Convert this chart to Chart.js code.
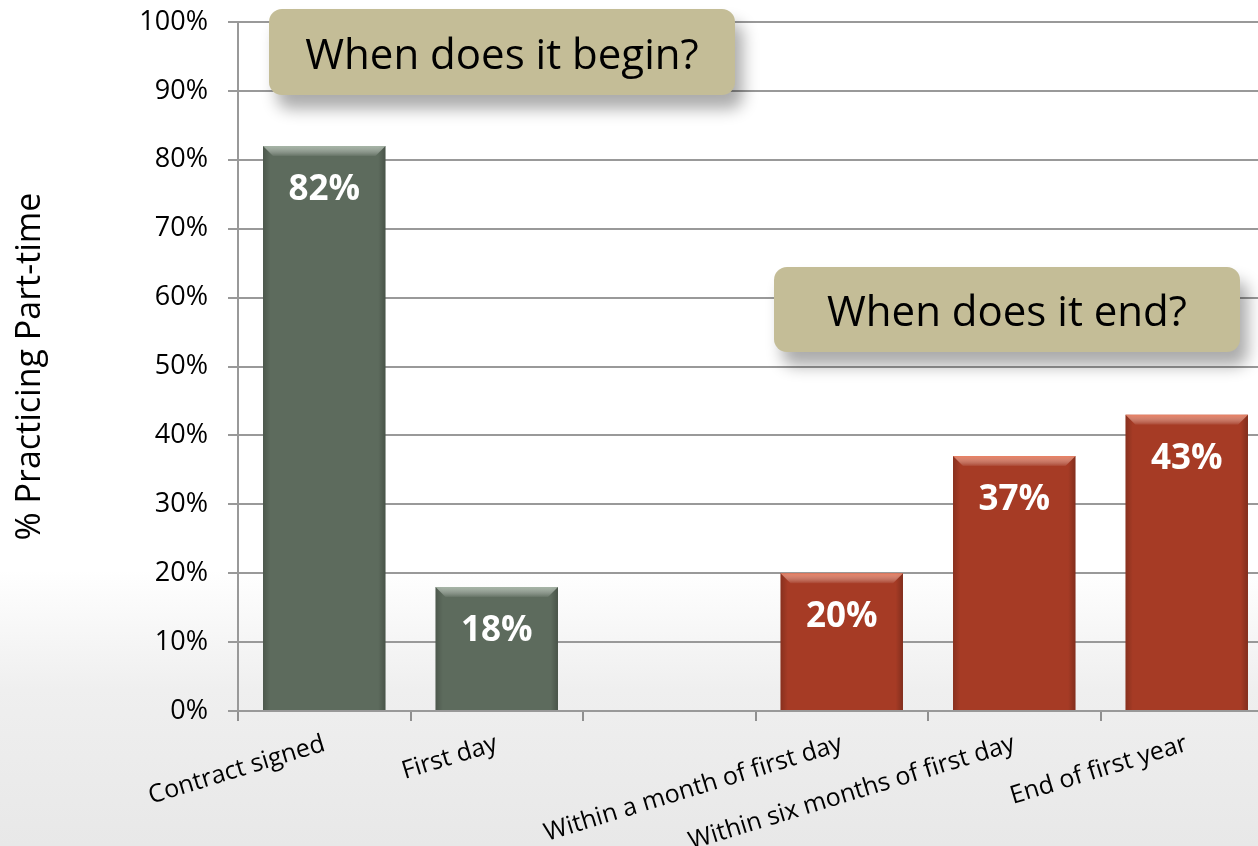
<!DOCTYPE html>
<html>
<head>
<meta charset="utf-8">
<script src="https://cdn.jsdelivr.net/npm/chart.js@4/dist/chart.umd.min.js"></script>
<style>
  html, body { margin: 0; padding: 0; width: 1258px; height: 846px; overflow: hidden; }
  body {
    background: linear-gradient(to bottom, #ffffff 0px, #ffffff 570px, #efefef 690px, #e8e8e8 846px);
    font-family: "Open Sans", sans-serif;
  }
  #wrap { position: relative; width: 1273px; height: 846px; }
  canvas { position: absolute; left: 0; top: 0; }
  .callout {
    position: absolute;
    background: #c4bd97;
    border-radius: 13px;
    box-shadow: 8px 14px 16px rgba(0,0,0,0.33);
    display: flex; align-items: center; justify-content: center;
    font-family: "Open Sans", sans-serif;
    font-size: 42px;
    color: #000;
  }
</style>
</head>
<body>
<div id="wrap">
  <canvas id="c" width="1273" height="846"></canvas>
  <div class="callout" style="left:269px; top:9px; width:466px; height:86px;">When does it begin?</div>
  <div class="callout" style="left:774px; top:267px; width:466px; height:85px;">When does it end?</div>
</div>
<script>
const categories = ["Contract signed", "First day", "", "Within a month of first day", "Within six months of first day", "End of first year"];
const beginValues = [82, 18, null, null, null, null];
const endValues = [null, null, null, 20, 37, 43];
const yTicks = [0, 10, 20, 30, 40, 50, 60, 70, 80, 90, 100];
const yTitle = "% Practicing Part-time";

const bevelColors = ["rgba(190,205,190,0.75)", "rgba(245,140,110,0.85)"];

const barDecor = {
  id: 'barDecor',
  afterDatasetsDraw(chart) {
    const ctx = chart.ctx;
    chart.data.datasets.forEach((ds, i) => {
      const meta = chart.getDatasetMeta(i);
      meta.data.forEach((bar, j) => {
        const v = ds.data[j];
        if (v == null) return;
        const w = bar.width, l = bar.x - w / 2, r = bar.x + w / 2, t = bar.y, b = bar.base;
        ctx.save();
        let g = ctx.createLinearGradient(l, 0, r, 0);
        g.addColorStop(0, 'rgba(0,0,0,0.18)');
        g.addColorStop(0.06, 'rgba(0,0,0,0)');
        g.addColorStop(0.94, 'rgba(0,0,0,0)');
        g.addColorStop(1, 'rgba(0,0,0,0.22)');
        ctx.fillStyle = g;
        ctx.fillRect(l, t, w, b - t);
        const bv = 10;
        const g2 = ctx.createLinearGradient(0, t, 0, t + bv);
        g2.addColorStop(0, bevelColors[i]);
        g2.addColorStop(1, 'rgba(255,255,255,0.05)');
        ctx.fillStyle = g2;
        ctx.beginPath();
        ctx.moveTo(l, t); ctx.lineTo(r, t); ctx.lineTo(r - bv, t + bv); ctx.lineTo(l + bv, t + bv); ctx.closePath();
        ctx.fill();
        ctx.fillStyle = '#ffffff';
        ctx.font = 'bold 35px "Open Sans", sans-serif';
        ctx.textAlign = 'center';
        ctx.textBaseline = 'middle';
        ctx.fillText(v + '%', bar.x, t + 44);
        ctx.restore();
      });
    });
  }
};

new Chart(document.getElementById('c'), {
  type: 'bar',
  data: {
    labels: categories,
    datasets: [
      { label: 'Begin', data: beginValues, backgroundColor: '#5d6b5d', grouped: false },
      { label: 'End', data: endValues, backgroundColor: '#a63b25', grouped: false }
    ]
  },
  options: {
    responsive: false,
    animation: false,
    layout: { padding: { top: 22, right: 0, left: 0, bottom: 0 } },
    plugins: { legend: { display: false }, tooltip: { enabled: false } },
    datasets: { bar: { categoryPercentage: 1.0, barPercentage: 0.71 } },
    scales: {
      x: {
        offset: true,
        grid: { display: true, offset: true, drawOnChartArea: false, drawTicks: true, tickLength: 10, color: '#8f8f8f', lineWidth: 2 },
        border: { display: false },
        ticks: {
          color: '#000',
          font: { family: '"Open Sans", sans-serif', size: 25 },
          minRotation: 17, maxRotation: 17,
          autoSkip: false,
          padding: 8
        },
        afterFit(s) { s.height = 135; s.paddingLeft = 0; s.paddingRight = 0; }
      },
      y: {
        min: 0, max: 100,
        afterBuildTicks(s) { s.ticks = yTicks.map(v => ({ value: v })); },
        grid: { color: '#999999', lineWidth: 2, tickLength: 10, drawTicks: true },
        border: { display: true, color: '#999999', width: 2 },
        ticks: {
          color: '#000',
          font: { family: '"Open Sans", sans-serif', size: 27 },
          padding: 20,
          callback: v => v + '%'
        },
        title: {
          display: true, text: yTitle, color: '#000',
          font: { family: '"Open Sans", sans-serif', size: 34 },
          padding: { top: 10, bottom: 0 }
        },
        afterFit(s) { s.width = 238; s.paddingTop = 0; s.paddingBottom = 0; }
      }
    }
  },
  plugins: [barDecor]
});
</script>
</body>
</html>
